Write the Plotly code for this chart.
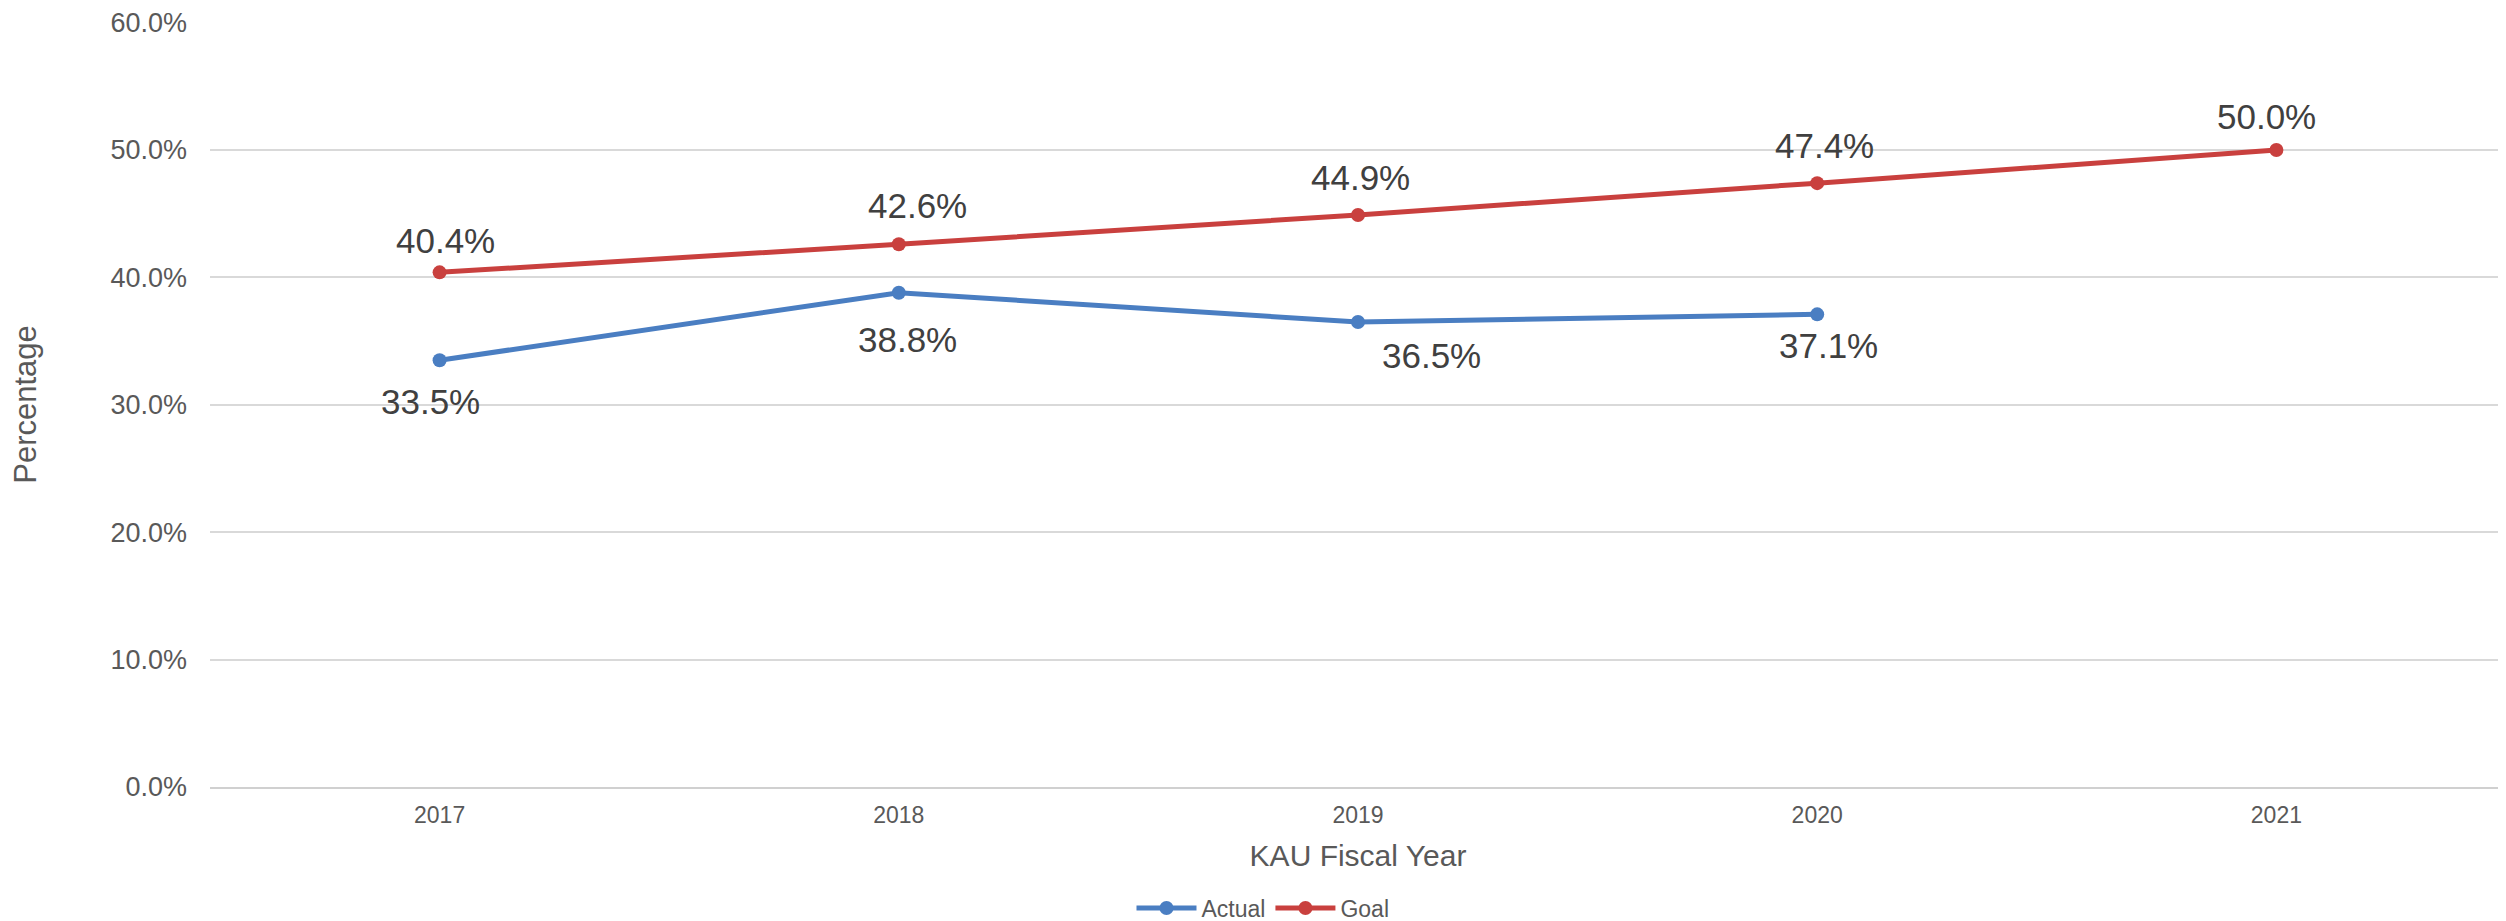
import plotly.graph_objects as go

years = ["2017", "2018", "2019", "2020", "2021"]
actual = [0.335, 0.388, 0.365, 0.371, None]
goal = [0.404, 0.426, 0.449, 0.474, 0.500]
y_ticks = [0.0, 0.1, 0.2, 0.3, 0.4, 0.5, 0.6]

# label offsets (pixels, dx right, dy down) relative to each point
actual_label_offsets = [(-9, 43), (9, 49), (73, 35), (11, 33), None]
goal_label_offsets = [(6, -30), (19, -37), (2, -36), (7, -36), (-10, -32)]

BLUE = "#4a7ec2"
RED = "#c9403e"
TEXT = "#404040"
AXIS_TEXT = "#595959"
FONT = "Liberation Sans, Arial, sans-serif"

fig = go.Figure()
fig.add_trace(go.Scatter(
    x=years, y=actual, name="Actual", mode="lines+markers",
    line=dict(color=BLUE, width=5), marker=dict(color=BLUE, size=14),
    connectgaps=False,
))
fig.add_trace(go.Scatter(
    x=years, y=goal, name="Goal", mode="lines+markers",
    line=dict(color=RED, width=5), marker=dict(color=RED, size=14),
))

for vals, offs in ((actual, actual_label_offsets), (goal, goal_label_offsets)):
    for i, (v, off) in enumerate(zip(vals, offs)):
        if v is None or off is None:
            continue
        dx, dy = off
        fig.add_annotation(
            x=i, y=v, xref="x", yref="y", text=f"{v*100:.1f}%",
            showarrow=False, xanchor="center", yanchor="middle",
            xshift=dx, yshift=-dy + 2,
            font=dict(family=FONT, size=35, color=TEXT),
        )

fig.update_layout(
    width=2498, height=913,
    margin=dict(l=202, r=0, t=14, b=134),
    paper_bgcolor="white", plot_bgcolor="white",
    font=dict(family=FONT, color=AXIS_TEXT),
    showlegend=True,
    legend=dict(
        orientation="h", xref="container", yref="container",
        x=0.5024, xanchor="center", y=0.0142, yanchor="middle",
        font=dict(size=23, color=AXIS_TEXT), itemwidth=60,
        traceorder="normal",
    ),
    xaxis=dict(
        type="category", range=[-0.5, 4.5],
        showgrid=False, showline=True, linecolor="#d0d0d0", linewidth=2,
        ticks="", tickfont=dict(size=23, color=AXIS_TEXT),
        ticklabelstandoff=6,
        title=dict(text="KAU Fiscal Year", font=dict(size=30, color=AXIS_TEXT), standoff=18),
        automargin=False,
    ),
    yaxis=dict(
        range=[0, 0.6005], tickvals=y_ticks, tickformat=".1%",
        showgrid=True, gridcolor="#d9d9d9", gridwidth=2,
        zeroline=False, showline=False,
        ticks="", tickfont=dict(size=27, color=AXIS_TEXT),
        ticklabelstandoff=22, ticklabeloverflow="allow",
        title=dict(text="Percentage", font=dict(size=31, color=AXIS_TEXT), standoff=66),
        automargin=False,
    ),
)

fig.write_html("out.html")
